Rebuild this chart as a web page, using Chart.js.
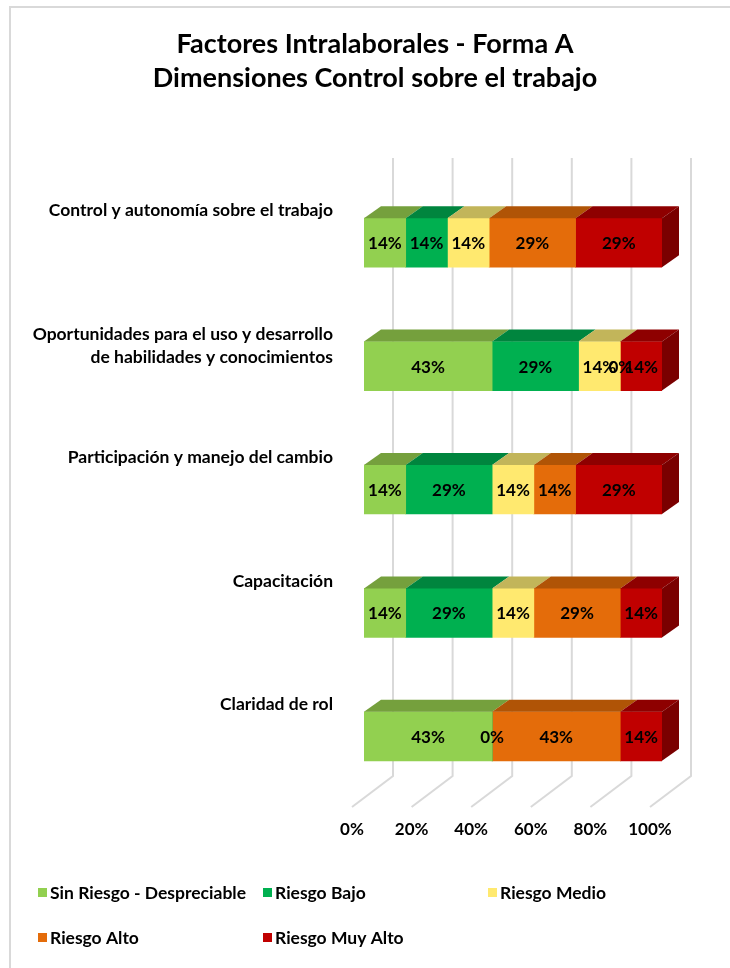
<!DOCTYPE html>
<html>
<head>
<meta charset="utf-8">
<script src="https://cdn.jsdelivr.net/npm/chart.js"></script>
<style>
  body { margin: 0; background: #fff; }
  #wrap { width: 730px; height: 968px; }
</style>
</head>
<body>
<div id="wrap"><canvas id="grafica" width="730" height="968"></canvas></div>
<script>
// Dimensiones - Control sobre el trabajo
const categorias = [
  ["Control y autonomía sobre el trabajo"],
  ["Oportunidades para el uso y desarrollo", "de habilidades y conocimientos"],
  ["Participación y manejo del cambio"],
  ["Capacitación"],
  ["Claridad de rol"]
];
const sinRiesgo   = [14, 43, 14, 14, 43];
const riesgoBajo  = [14, 29, 29, 29, 0];
const riesgoMedio = [14, 14, 14, 14, null];
const riesgoAlto  = [29, 0, 14, 29, 43];
const riesgoMuyAlto = [29, 14, 29, 14, 14];
const ticksX = [0, 20, 40, 60, 80, 100];
const titulo = ["Factores Intralaborales - Forma A", "Dimensiones Control sobre el trabajo"];

const series = [
  { label: "Sin Riesgo - Despreciable", data: sinRiesgo, front: "#92D050", top: "#75A03D", side: "#5E8230" },
  { label: "Riesgo Bajo", data: riesgoBajo, front: "#00B050", top: "#00853E", side: "#006E32" },
  { label: "Riesgo Medio", data: riesgoMedio, front: "#FFE96F", top: "#C2B55A", side: "#A8994A" },
  { label: "Riesgo Alto", data: riesgoAlto, front: "#E46C0A", top: "#B05406", side: "#93470A" },
  { label: "Riesgo Muy Alto", data: riesgoMuyAlto, front: "#C00000", top: "#8E0000", side: "#7A0000" }
];

const FONT = "Lato, 'DejaVu Sans', sans-serif";
const prof = { dx: 17, dy: 12 };     // profundidad de la barra
const piso = { atras: 29, frente: -12 }; // desplazamiento de la rejilla

const marco = {
  id: "marco",
  beforeDraw(chart) {
    const c = chart.ctx;
    c.save();
    c.fillStyle = "#fff";
    c.fillRect(0, 0, chart.width, chart.height);
    c.strokeStyle = "#D9D9D9";
    c.lineWidth = 2;
    c.beginPath();
    c.moveTo(10, chart.height);
    c.lineTo(10, 7);
    c.lineTo(chart.width, 7);
    c.stroke();

    c.fillStyle = "#000";
    c.textAlign = "center";
    c.textBaseline = "middle";
    c.font = "bold 27px " + FONT;
    c.fillText(titulo[0], 375, 44);
    c.fillText(titulo[1], 375, 78);
    c.restore();
  },
  beforeDatasetsDraw(chart) {
    const c = chart.ctx, xs = chart.scales.x;
    c.save();
    c.strokeStyle = "#D9D9D9";
    c.lineWidth = 2;
    ticksX.forEach(v => {
      const px = xs.getPixelForValue(v);
      c.beginPath();
      c.moveTo(px + piso.atras, 158);
      c.lineTo(px + piso.atras, 776);
      c.lineTo(px + piso.frente, 807);
      c.stroke();
    });
    c.fillStyle = "#000";
    c.font = "bold 17px " + FONT;
    c.textAlign = "center";
    c.textBaseline = "middle";
    ticksX.forEach(v => {
      c.fillText(v + "%", xs.getPixelForValue(v) + piso.frente, 830);
    });

    // etiquetas de categoria
    const ys = chart.scales.y;
    c.textAlign = "right";
    c.font = "bold 17.5px " + FONT;
    categorias.forEach((lineas, i) => {
      const cy = ys.getPixelForValue(i);
      lineas.forEach((t, k) => c.fillText(t, 333, cy - 32 + k * 23));
    });
    c.restore();
  },
  afterDatasetsDraw(chart) {
    const c = chart.ctx;
    c.save();
    categorias.forEach((_, i) => {
      let ultimo = -1;
      series.forEach((s, d) => {
        const el = chart.getDatasetMeta(d).data[i];
        const v = s.data[i];
        if (!el || v == null) return;
        const p = el.getProps(["x", "base", "y", "height"], true);
        const x1 = Math.min(p.x, p.base), x2 = Math.max(p.x, p.base);
        const top = p.y - p.height / 2;
        if (v > 0) {
          c.fillStyle = s.top;
          c.beginPath();
          c.moveTo(x1, top);
          c.lineTo(x1 + prof.dx, top - prof.dy);
          c.lineTo(x2 + prof.dx, top - prof.dy);
          c.lineTo(x2, top);
          c.closePath();
          c.fill();
          ultimo = d;
        }
      });
      if (ultimo >= 0) {
        const s = series[ultimo];
        const p = chart.getDatasetMeta(ultimo).data[i].getProps(["x", "y", "height"], true);
        const top = p.y - p.height / 2, bot = p.y + p.height / 2;
        c.fillStyle = s.side;
        c.beginPath();
        c.moveTo(p.x, top);
        c.lineTo(p.x + prof.dx, top - prof.dy);
        c.lineTo(p.x + prof.dx, bot - prof.dy);
        c.lineTo(p.x, bot);
        c.closePath();
        c.fill();
      }
    });

    // valores
    c.fillStyle = "#000";
    c.font = "bold 17px " + FONT;
    c.textAlign = "center";
    c.textBaseline = "middle";
    series.forEach((s, d) => {
      chart.getDatasetMeta(d).data.forEach((el, i) => {
        const v = s.data[i];
        if (v == null) return;
        const p = el.getProps(["x", "base", "y"], true);
        c.fillText(v + "%", (p.x + p.base) / 2, p.y + 1);
      });
    });

    // leyenda
    const pos = [[38, 893], [263, 893], [488, 893], [38, 938], [263, 938]];
    c.font = "bold 17.5px " + FONT;
    c.textAlign = "left";
    series.forEach((s, d) => {
      const [lx, ly] = pos[d];
      c.fillStyle = s.front;
      c.fillRect(lx, ly - 5, 9, 9);
      c.fillStyle = "#000";
      c.fillText(s.label, lx + 12, ly);
    });
    c.restore();
  }
};

const graph = document.querySelector("#grafica");

const data = {
  labels: categorias,
  datasets: series.map(s => ({
    label: s.label,
    data: s.data,
    backgroundColor: s.front,
    borderWidth: 0,
    barThickness: 49
  }))
};

const config = {
  type: "bar",
  data: data,
  options: {
    indexAxis: "y",
    responsive: false,
    animation: false,
    layout: { padding: { left: 364, right: 68, top: 181, bottom: 170 } },
    scales: {
      x: { stacked: true, min: 0, max: 100, display: false },
      y: { stacked: true, display: false }
    },
    plugins: {
      legend: { display: false },
      title: { display: false },
      tooltip: { enabled: false }
    }
  },
  plugins: [marco]
};
new Chart(graph, config);
</script>
</body>
</html>
